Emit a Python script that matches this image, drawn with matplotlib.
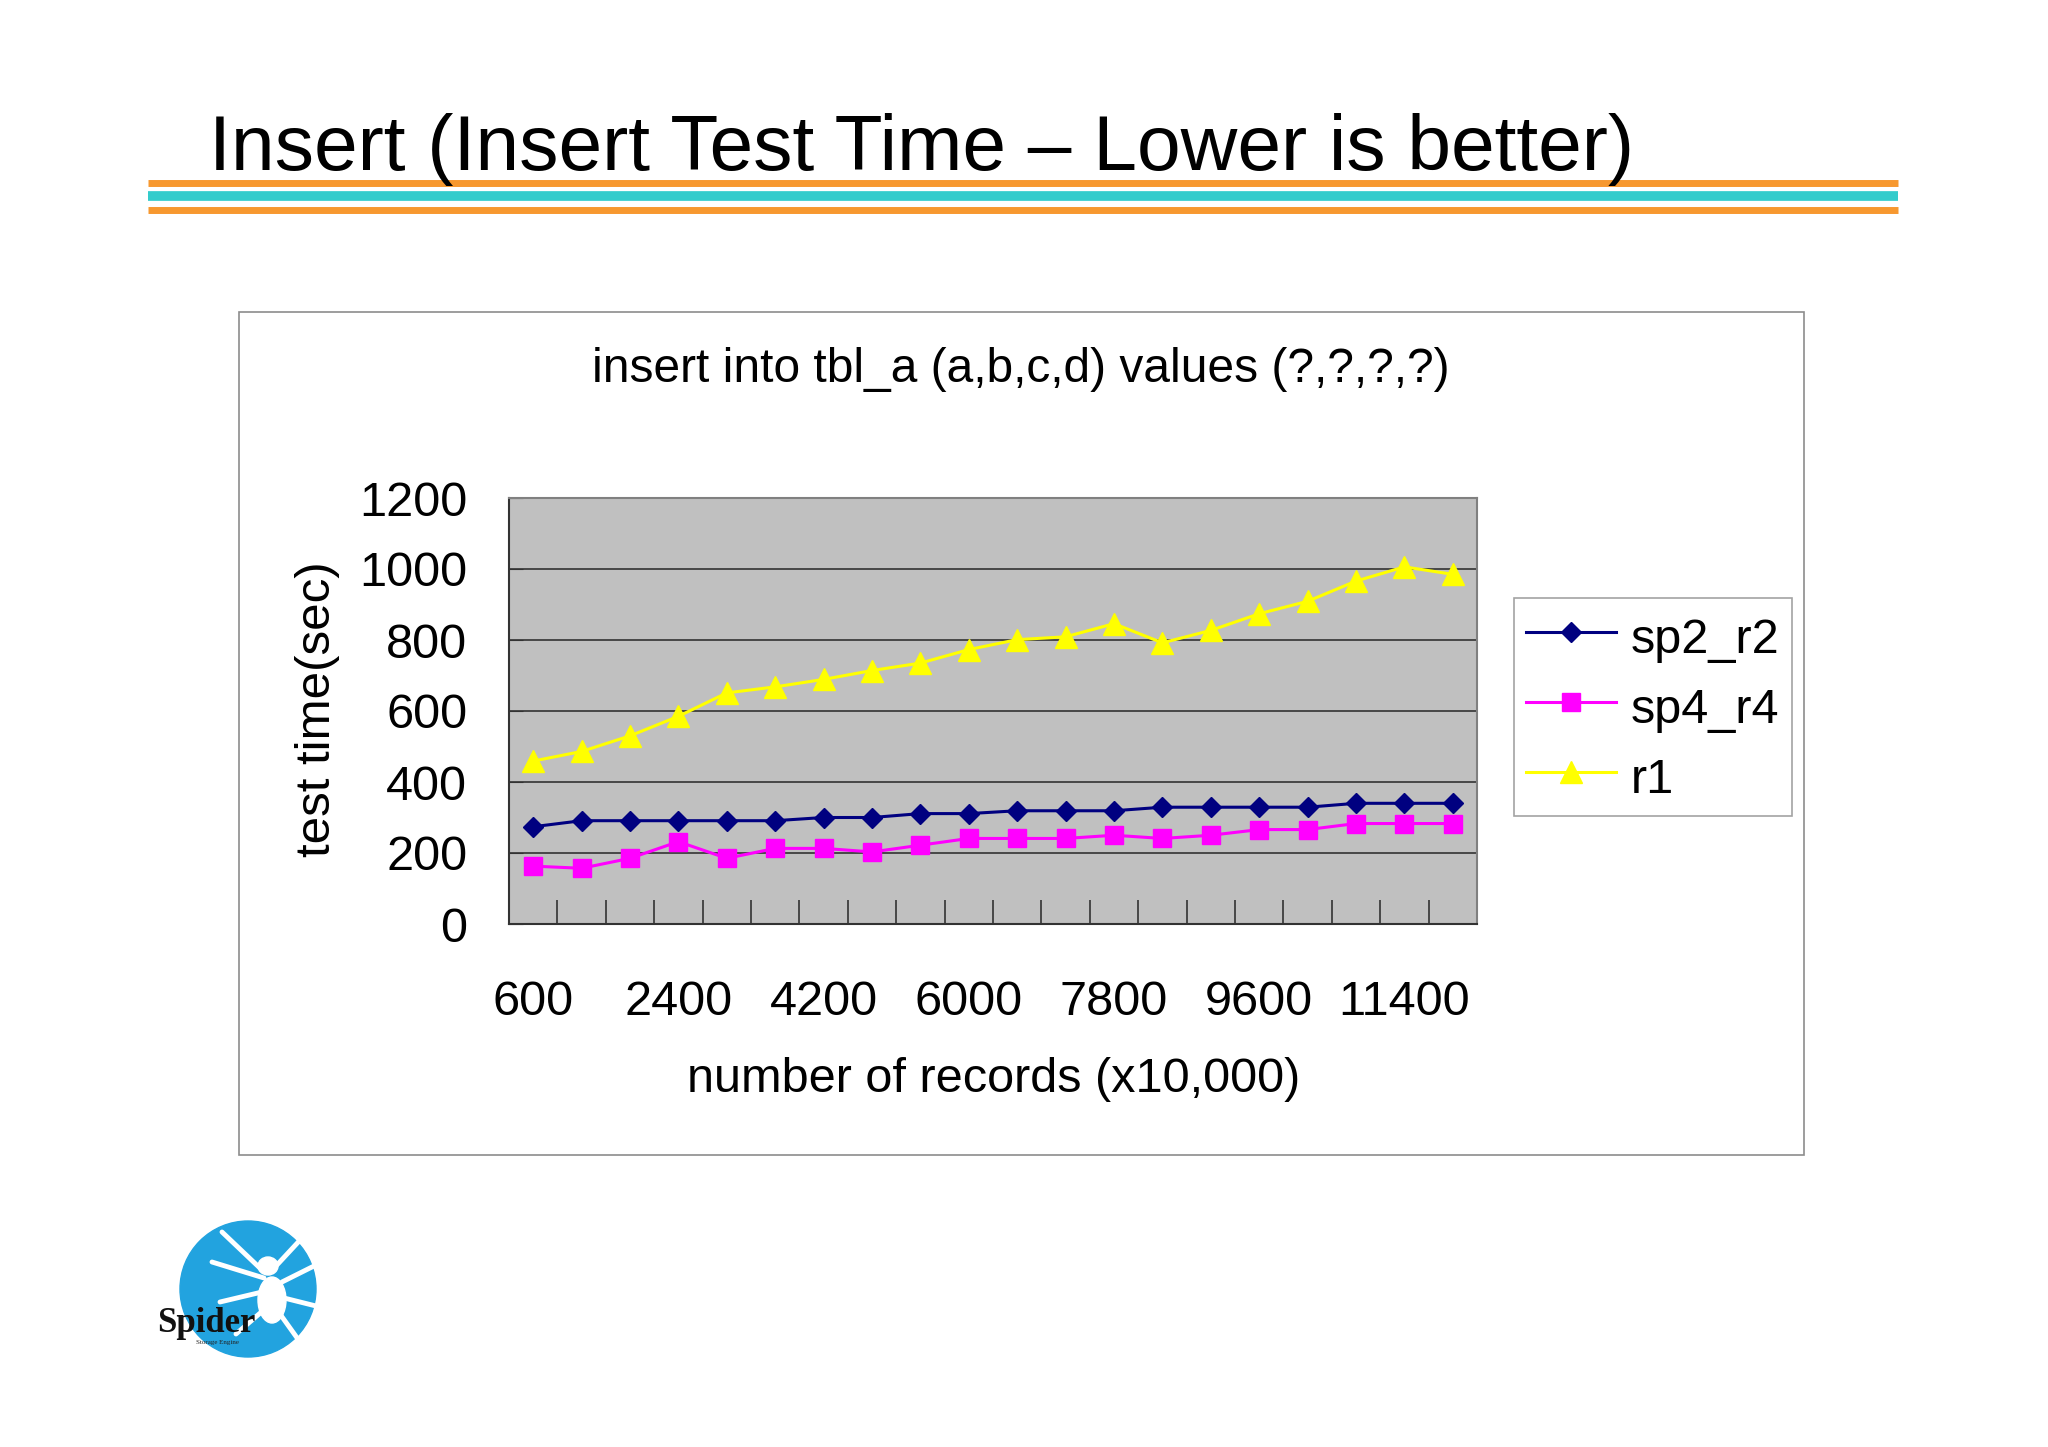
import matplotlib
matplotlib.use("Agg")
import matplotlib.pyplot as plt
import matplotlib.patches as mpatches
from matplotlib.lines import Line2D

plt.rcParams['font.family'] = ['Liberation Sans', 'DejaVu Sans']

# data
records = [600, 1200, 1800, 2400, 3000, 3600, 4200, 4800, 5400, 6000,
           6600, 7200, 7800, 8400, 9000, 9600, 10200, 10800, 11400, 12000]
sp2_r2 = [274, 291, 291, 291, 291, 291, 300, 300, 311, 311,
          319, 319, 319, 329, 329, 329, 329, 340, 340, 340]
sp4_r4 = [163, 157, 185, 232, 185, 213, 213, 203, 222, 241,
          241, 241, 250, 241, 250, 266, 266, 283, 283, 283]
r1 = [459, 486, 530, 585, 651, 668, 689, 714, 735, 773,
      801, 809, 846, 792, 827, 874, 909, 966, 1006, 985]
y_ticks = [0, 200, 400, 600, 800, 1000, 1200]

W, H = 2048, 1447
fig = plt.figure(figsize=(W / 100, H / 100), dpi=100)
fig.patch.set_facecolor('white')

def fx(px):
    return px / W

def fy(py):
    return 1 - py / H

# slide title and stripes
fig.text(fx(209), fy(170), 'Insert (Insert Test Time \u2013 Lower is better)',
         fontsize=56.5, color='black', ha='left', va='baseline')
for yy, c, lw in [(183, '#F7982F', 5.0), (196, '#33CCCC', 7.0), (210, '#F7982F', 5.0)]:
    fig.add_artist(Line2D([fx(148), fx(1898)], [fy(yy), fy(yy)], color=c, lw=lw,
                          transform=fig.transFigure, solid_capstyle='butt'))

# chart frame
frame = mpatches.Rectangle((fx(239), fy(1155)), fx(1804) - fx(239), fy(312) - fy(1155),
                           transform=fig.transFigure, facecolor='white',
                           edgecolor='#8C8C8C', lw=1.2, zorder=-5)
fig.add_artist(frame)
fig.text(fx(1021), fy(370), 'insert into tbl_a (a,b,c,d) values (?,?,?,?)',
         fontsize=34.5, ha='center', va='center')

ax = fig.add_axes([fx(509), fy(924), fx(1477) - fx(509), fy(498) - fy(924)])
ax.set_zorder(3)
ax.set_facecolor('#C0C0C0')
x = list(range(len(records)))
ax.plot(x, sp2_r2, color='#000080', marker='D', markersize=10.5, lw=2.2, label='sp2_r2')
ax.plot(x, sp4_r4, color='#FF00FF', marker='s', markersize=13, lw=2.2, label='sp4_r4')
ax.plot(x, r1, color='#FFFF00', marker='^', markersize=15.5, lw=2.2, label='r1')

ax.set_xlim(-0.5, len(records) - 0.5)
ax.set_ylim(0, 1200)
ax.set_yticks(y_ticks)
ax.set_yticklabels([str(v) for v in y_ticks])
ax.yaxis.grid(True, color='#333333', lw=1.2)
ax.set_axisbelow(True)
ax.set_xticks(x[::3])
ax.set_xticklabels([str(r) for r in records[::3]])
ax.set_xticks([i + 0.5 for i in range(len(records) - 1)], minor=True)
ax.tick_params(axis='x', which='major', length=0, pad=40, labelsize=35)
ax.tick_params(axis='x', which='minor', direction='in', length=17, width=1.2, color='#333333')
ax.tick_params(axis='y', direction='in', length=10, pad=30, labelsize=35, color='#333333')
for s in ax.spines.values():
    s.set_color('#808080')
    s.set_linewidth(1.5)
ax.spines['bottom'].set_color('#333333')
ax.spines['left'].set_color('#333333')

fig.text(fx(994), fy(1079), 'number of records (x10,000)', fontsize=35, ha='center', va='center')
fig.text(fx(317), fy(709), 'test time(sec)', fontsize=35.5, ha='center', va='center', rotation=90)

leg = ax.legend(loc='upper left', bbox_to_anchor=(fx(1514), fy(598)),
                bbox_transform=fig.transFigure, fontsize=35, frameon=True, fancybox=False,
                handlelength=1.85, handleheight=1.3, handletextpad=0.3, labelspacing=0.35,
                borderpad=0.255, borderaxespad=0)
leg.get_frame().set_edgecolor('#8C8C8C')
leg.get_frame().set_linewidth(1.2)

# logo
lax = fig.add_axes([fx(150), fy(1365), fx(200), fy(1205) - fy(1365)])
lax.set_xlim(150, 350)
lax.set_ylim(1365, 1205)
lax.set_aspect('equal')
lax.axis('off')
lax.add_patch(mpatches.Circle((248, 1289), 68, color='#22A3DF'))
lax.add_patch(mpatches.Ellipse((272, 1300), 28, 46, color='white'))
lax.add_patch(mpatches.Ellipse((268, 1266), 20, 18, color='white'))
for (x0, y0, x1, y1) in [(262, 1270, 222, 1232), (264, 1278, 212, 1262), (262, 1292, 220, 1302),
                         (266, 1308, 236, 1334), (276, 1266, 302, 1238), (282, 1282, 314, 1266),
                         (284, 1298, 316, 1306), (280, 1314, 300, 1342)]:
    lax.plot([x0, x1], [y0, y1], color='white', lw=3.5, solid_capstyle='round')
lax.text(157, 1332, 'Spider', fontsize=25, fontweight='bold', family='Liberation Serif',
         ha='left', va='baseline', color='#111111')
lax.text(196, 1344, 'Storage Engine', fontsize=5, family='Liberation Serif',
         ha='left', va='baseline', color='#222222')

fig.savefig('out.png', dpi=100, facecolor='white')
